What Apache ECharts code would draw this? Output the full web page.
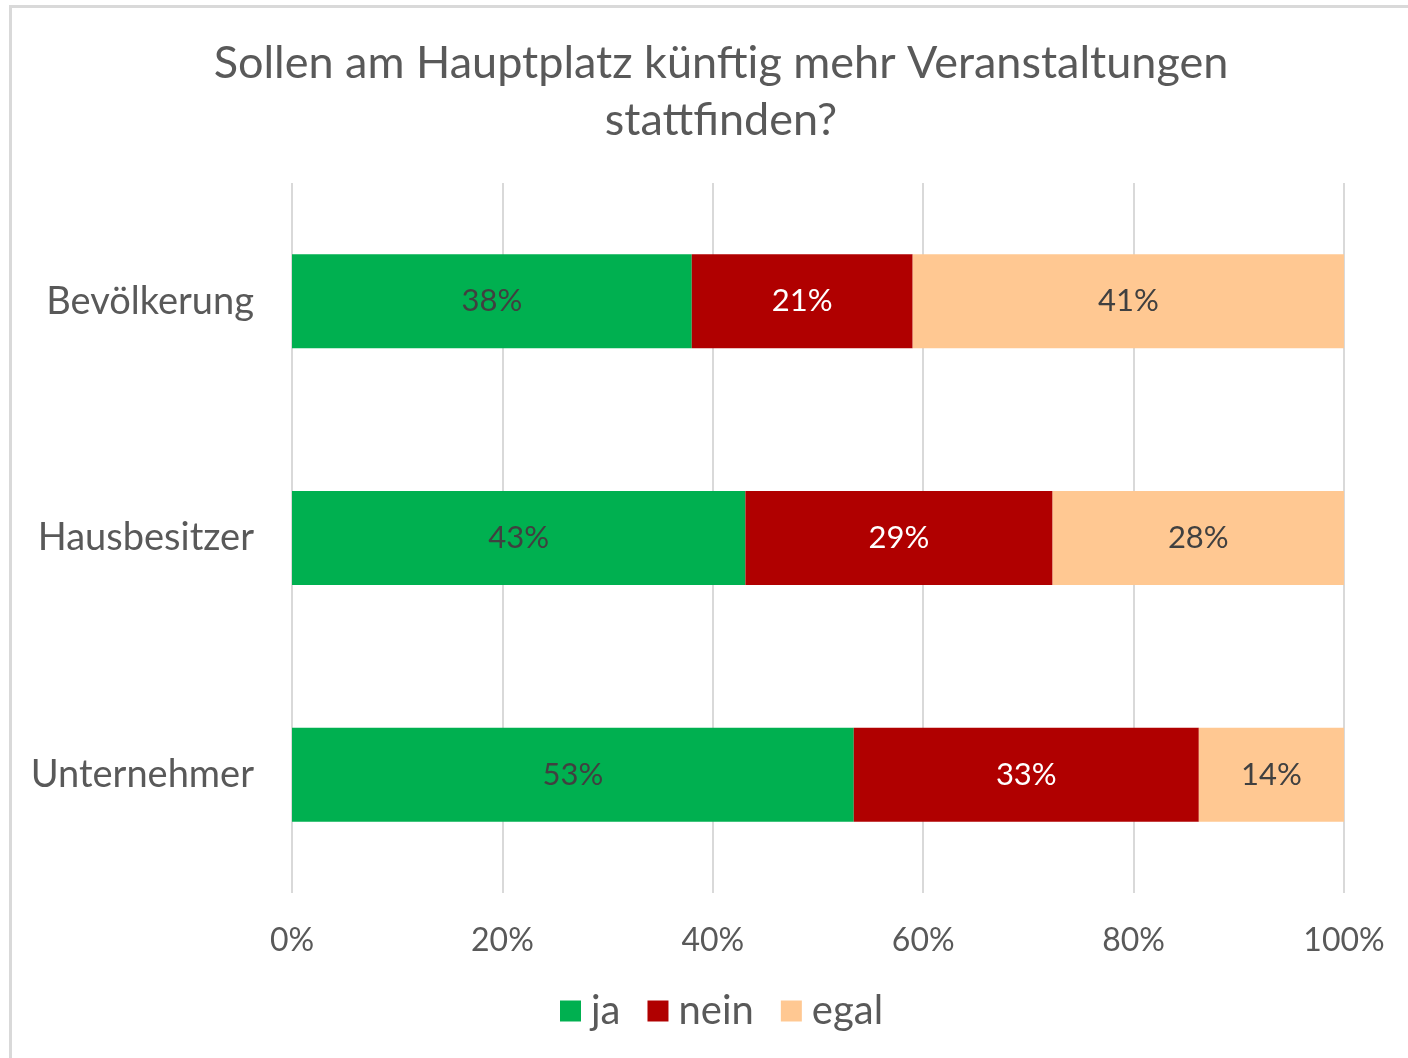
<!DOCTYPE html>
<html>
<head>
<meta charset="utf-8">
<script src="https://cdn.jsdelivr.net/npm/echarts@6/dist/echarts.min.js"></script>
<style>
  html, body { margin: 0; padding: 0; background: #fff; }
  #frame {
    position: absolute; left: 9px; top: 5px; width: 1500px; height: 1200px;
    border: 3px solid #d9d9d9; box-sizing: border-box;
  }
  #main { position: absolute; left: 0; top: 0; width: 1408px; height: 1058px; }
</style>
</head>
<body>
<div id="frame"></div>
<div id="main"></div>
<script>
const categories = ['Bevölkerung', 'Hausbesitzer', 'Unternehmer']
const ja = [38.0, 43.1, 53.4]
const nein = [21.0, 29.2, 32.8]
const egal = [41.0, 27.7, 13.8]
const ticks = [0, 20, 40, 60, 80, 100]

const font = 'Lato, "Open Sans", sans-serif'
const chart = echarts.init(document.getElementById('main'))

function bar(name, data, color, labelColor) {
  return {
    name,
    type: 'bar',
    stack: 'total',
    data,
    barWidth: 94,
    itemStyle: { color },
    label: {
      show: true,
      position: 'inside',
      formatter: (p) => Math.round(p.value) + '%',
      color: labelColor,
      fontSize: 31,
      fontFamily: font,
      padding: [6, 0, 0, 0]
    }
  }
}

chart.setOption({
  animation: false,
  title: {
    text: 'Sollen am Hauptplatz künftig mehr Veranstaltungen\nstattfinden?',
    left: 716,
    top: 30,
    textAlign: 'center',
    textStyle: {
      fontSize: 45,
      fontWeight: 'normal',
      color: '#595959',
      lineHeight: 57,
      fontFamily: font
    }
  },
  legend: {
    data: ['ja', 'nein', 'egal'],
    bottom: 22,
    left: 555,
    icon: 'rect',
    itemWidth: 21,
    itemHeight: 21,
    itemGap: 27,
    textStyle: { fontSize: 40, color: '#595959', fontFamily: font, padding: [0, 0, 0, 5] }
  },
  grid: {
    left: 292,
    right: 64,
    top: 183,
    bottom: 165,
    containLabel: false
  },
  xAxis: {
    type: 'value',
    min: 0,
    max: 100,
    interval: 20,
    axisLine: { show: false },
    axisTick: { show: false },
    splitLine: { lineStyle: { color: '#d9d9d9', width: 2 } },
    axisLabel: {
      formatter: (v) => (ticks.includes(v) ? v + '%' : ''),
      fontSize: 32,
      color: '#595959',
      margin: 32,
      fontFamily: font
    }
  },
  yAxis: {
    type: 'category',
    data: categories,
    inverse: true,
    axisLine: { show: false },
    axisTick: { show: false },
    axisLabel: {
      fontSize: 38,
      color: '#595959',
      margin: 38,
      fontFamily: font
    }
  },
  series: [
    bar('ja', ja, '#00b050', '#404040'),
    bar('nein', nein, '#b00000', '#ffffff'),
    bar('egal', egal, '#ffc892', '#404040')
  ]
})
</script>
</body>
</html>
